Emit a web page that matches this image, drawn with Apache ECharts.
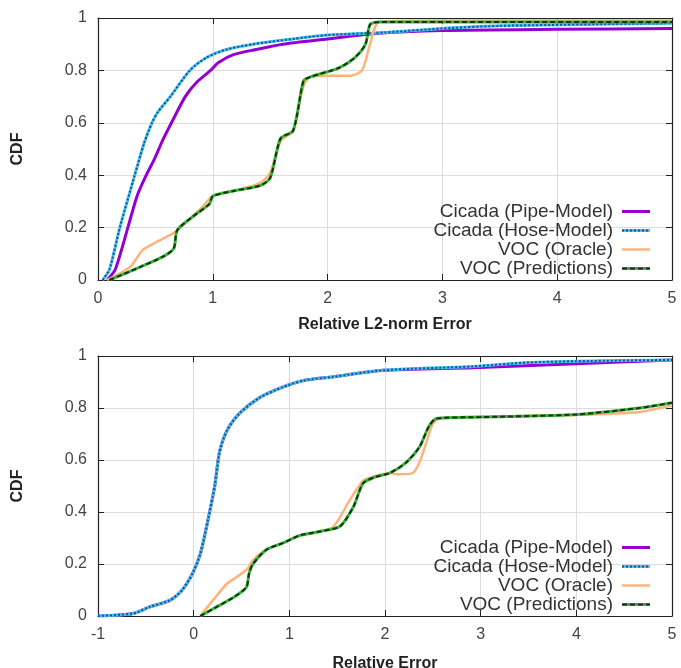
<!DOCTYPE html>
<html>
<head>
<meta charset="utf-8">
<script src="https://cdn.jsdelivr.net/npm/echarts@6/dist/echarts.min.js"></script>
<style>
  html, body { margin: 0; padding: 0; background: #fff; }
  #chart { width: 681px; height: 668px; }
</style>
</head>
<body>
<div id="chart"></div>
<script>
// legend names
const seriesNames = ["Cicada (Pipe-Model)", "Cicada (Hose-Model)", "VOC (Oracle)", "VOC (Predictions)"];

// top panel: Relative L2-norm Error vs CDF
const topPipe = [[0.08,0],[0.15,0.04],[0.26,0.2],[0.34,0.32],[0.42,0.4],[0.49,0.46],[0.56,0.53],[0.64,0.6],[0.76,0.7],[0.86,0.755],[0.98,0.8],[1.05,0.83],[1.18,0.86],[1.38,0.88],[1.61,0.9],[2.0,0.92],[2.4,0.94],[3,0.952],[4,0.957],[5,0.96]];
const topHose = [[0.04,0],[0.1,0.04],[0.19,0.2],[0.32,0.4],[0.4,0.52],[0.47,0.6],[0.52,0.64],[0.63,0.7],[0.8,0.8],[0.95,0.85],[1.12,0.88],[1.35,0.9],[1.7,0.92],[2.0,0.935],[2.5,0.945],[3,0.96],[3.5,0.97],[5,0.98]];
const topOracle = [[0.08,0],[0.28,0.05],[0.39,0.115],[0.51,0.145],[0.66,0.18],[0.72,0.2],[0.89,0.27],[1.0,0.32],[1.18,0.34],[1.41,0.37],[1.5,0.41],[1.59,0.53],[1.7,0.57],[1.79,0.74],[1.85,0.775],[2.0,0.78],[2.2,0.78],[2.3,0.8],[2.37,0.9],[2.45,0.985],[3,0.99],[5,0.99]];
const topPred = [[0.1,0],[0.37,0.05],[0.57,0.09],[0.66,0.12],[0.69,0.19],[0.82,0.24],[0.97,0.29],[1.0,0.32],[1.18,0.34],[1.41,0.36],[1.5,0.39],[1.59,0.54],[1.7,0.57],[1.79,0.76],[1.85,0.775],[2.1,0.81],[2.24,0.85],[2.33,0.9],[2.37,0.975],[2.45,0.985],[5,0.985]];

// bottom panel: Relative Error vs CDF
const botPipe = [[-1,0],[-0.63,0.01],[-0.46,0.035],[-0.25,0.06],[-0.12,0.1],[-0.01,0.165],[0.07,0.24],[0.15,0.37],[0.22,0.5],[0.27,0.63],[0.35,0.715],[0.48,0.78],[0.69,0.84],[0.93,0.88],[1.14,0.905],[1.46,0.92],[1.98,0.945],[2.92,0.955],[4,0.97],[5,0.985]];
const botHose = [[-1,0],[-0.63,0.01],[-0.46,0.035],[-0.25,0.06],[-0.12,0.1],[-0.01,0.165],[0.07,0.24],[0.15,0.37],[0.22,0.5],[0.27,0.63],[0.35,0.715],[0.48,0.78],[0.69,0.84],[0.93,0.88],[1.14,0.905],[1.46,0.92],[1.98,0.945],[2.92,0.96],[3.5,0.975],[4,0.98],[5,0.985]];
const botOracle = [[0.07,0],[0.2,0.06],[0.35,0.125],[0.45,0.15],[0.56,0.18],[0.62,0.215],[0.76,0.255],[0.93,0.28],[1.11,0.31],[1.32,0.325],[1.45,0.34],[1.53,0.38],[1.63,0.445],[1.77,0.52],[1.87,0.535],[2.05,0.55],[2.15,0.545],[2.29,0.55],[2.36,0.59],[2.43,0.665],[2.5,0.74],[2.57,0.76],[2.92,0.765],[3.96,0.773],[4.66,0.785],[5,0.81]];
const botPred = [[0.07,0],[0.24,0.035],[0.41,0.07],[0.55,0.11],[0.58,0.165],[0.62,0.2],[0.76,0.255],[0.93,0.28],[1.11,0.31],[1.32,0.325],[1.53,0.345],[1.67,0.42],[1.77,0.51],[1.9,0.535],[2.05,0.55],[2.22,0.59],[2.36,0.65],[2.46,0.73],[2.54,0.76],[3,0.765],[4,0.775],[4.66,0.8],[5,0.82]];

const FONT = "Liberation Sans, Arial, sans-serif";
const cPipe = "#9400D3";
const cHose = "#45c6ea";
const cHoseDot = "#1d4f9e";
const cOracle = "#ffb27a";
const cPred = "#33b833";
const cPredDash = "#1c2e1c";

function svgIcon(inner) {
  const svg = "<svg xmlns='http://www.w3.org/2000/svg' width='28' height='14' viewBox='0 0 28 14' preserveAspectRatio='none'>" + inner + "</svg>";
  return "image://data:image/svg+xml;charset=utf-8," + encodeURIComponent(svg);
}
const icons = [
  svgIcon("<line x1='0' y1='7' x2='28' y2='7' stroke='" + cPipe + "' stroke-width='3'/>"),
  svgIcon("<line x1='0' y1='7' x2='28' y2='7' stroke='" + cHose + "' stroke-width='3'/><line x1='0' y1='7' x2='28' y2='7' stroke='" + cHoseDot + "' stroke-width='2' stroke-dasharray='2 2'/>"),
  svgIcon("<line x1='0' y1='7' x2='28' y2='7' stroke='" + cOracle + "' stroke-width='2.5'/>"),
  svgIcon("<line x1='0' y1='7' x2='28' y2='7' stroke='" + cPred + "' stroke-width='3'/><line x1='0' y1='7' x2='28' y2='7' stroke='" + cPredDash + "' stroke-width='2' stroke-dasharray='5 3'/>")
];

const border = { show: true, onZero: false, lineStyle: { color: "#222", width: 1.2 } };
const ticks = { show: true, inside: true, length: 6, lineStyle: { color: "#222" } };
const grids = { show: true, lineStyle: { color: "#dcdcdc", width: 1 } };
const nameStyle = { fontFamily: FONT, fontSize: 16, fontWeight: "bold", color: "#222" };
const labelStyle = { fontFamily: FONT, fontSize: 16, color: "#444" };

function xAxisFor(gridIndex, min, name, nameGap) {
  return {
    type: "value", gridIndex, min, max: 5, interval: 1,
    name, nameLocation: "middle", nameGap, nameTextStyle: nameStyle,
    axisLine: border, axisTick: ticks,
    axisLabel: Object.assign({ margin: 11 }, labelStyle),
    splitLine: grids
  };
}
function xTopFor(gridIndex, min) {
  return {
    type: "value", gridIndex, min, max: 5, interval: 1, position: "top",
    axisLine: border, axisTick: ticks,
    axisLabel: { show: false }, splitLine: { show: false }
  };
}
function yAxisFor(gridIndex) {
  return {
    type: "value", gridIndex, min: 0, max: 1, interval: 0.2,
    name: "CDF", nameLocation: "middle", nameGap: 72, nameRotate: 90, nameTextStyle: nameStyle,
    axisLine: border, axisTick: ticks,
    axisLabel: Object.assign({ margin: 11 }, labelStyle),
    splitLine: grids
  };
}
function yRightFor(gridIndex) {
  return {
    type: "value", gridIndex, min: 0, max: 1, interval: 0.2, position: "right",
    axisLine: border, axisTick: ticks,
    axisLabel: { show: false }, splitLine: { show: false }
  };
}

function line(name, data, idx, color, width, extra) {
  return Object.assign({
    name, type: "line", data, xAxisIndex: idx, yAxisIndex: idx,
    symbol: "none", smooth: 0.25, silent: true,
    lineStyle: { color, width }, itemStyle: { color }, z: 2
  }, extra || {});
}

function panelSeries(idx, pipe, hose, oracle, pred) {
  return [
    line(seriesNames[0], pipe, idx, cPipe, 3),
    line(seriesNames[1], hose, idx, cHose, 3),
    line("hose-dots-" + idx, hose, idx, cHoseDot, 2, { lineStyle: { color: cHoseDot, width: 2, type: [2, 2] }, z: 3 }),
    line(seriesNames[2], oracle, idx, cOracle, 2.5, { z: 4 }),
    line(seriesNames[3], pred, idx, cPred, 3, { z: 5 }),
    line("pred-dash-" + idx, pred, idx, cPredDash, 2, { lineStyle: { color: cPredDash, width: 2, type: [5, 3] }, z: 6 })
  ];
}

function legendFor(bottom) {
  return {
    orient: "vertical", align: "right", right: 31, bottom, padding: 0,
    itemWidth: 28, itemHeight: 14, itemGap: 0, selectedMode: false,
    textStyle: { fontFamily: FONT, fontSize: 19, lineHeight: 18, color: "#333", padding: [0, 4, 0, 0] },
    data: seriesNames.map((n, i) => ({ name: n, icon: icons[i] }))
  };
}

const chart = echarts.init(document.getElementById("chart"));
chart.setOption({
  backgroundColor: "#fff",
  animation: false,
  grid: [
    { left: 98, right: 9, top: 18, height: 262, outerBoundsMode: "none", containLabel: false },
    { left: 98, right: 9, top: 356, height: 260, outerBoundsMode: "none", containLabel: false }
  ],
  xAxis: [
    xAxisFor(0, 0, "Relative L2-norm Error", 37),
    xAxisFor(1, -1, "Relative Error", 40),
    xTopFor(0, 0),
    xTopFor(1, -1)
  ],
  yAxis: [yAxisFor(0), yAxisFor(1), yRightFor(0), yRightFor(1)],
  legend: [legendFor(390), legendFor(54)],
  series: [].concat(
    panelSeries(0, topPipe, topHose, topOracle, topPred),
    panelSeries(1, botPipe, botHose, botOracle, botPred)
  )
});
</script>
</body>
</html>
